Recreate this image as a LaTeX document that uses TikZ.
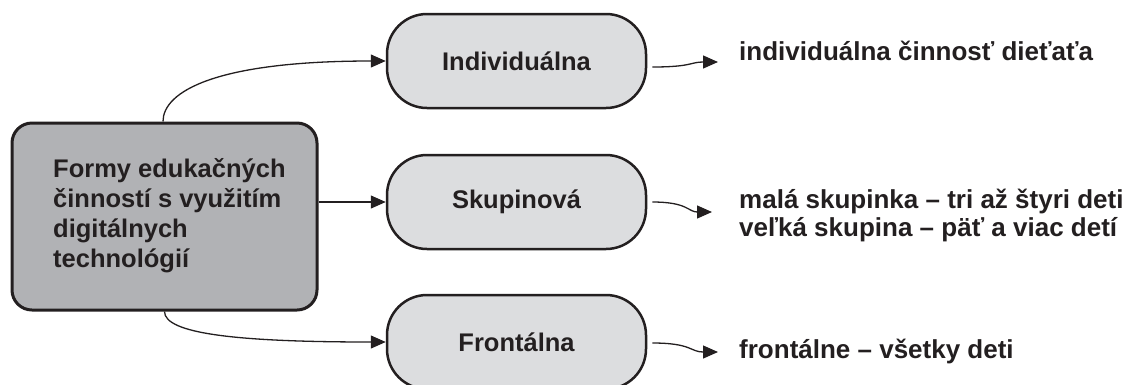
\documentclass[tikz,border=0pt]{standalone}
\usepackage{fontspec}
\setmainfont{Liberation Sans}
\usetikzlibrary{positioning,arrows.meta}

\definecolor{ink}{HTML}{231F20}
\definecolor{boxgray}{HTML}{B1B2B5}
\definecolor{pillgray}{HTML}{DCDDDF}

\newcommand\notefont{\fontsize{26}{28}\selectfont\bfseries\lineskiplimit=-20pt\relax}

\tikzset{
  bigtext/.style={font=\fontsize{25.5}{30}\selectfont\bfseries, text=ink},
  pill/.style={draw=ink, line width=2.5pt, fill=pillgray, rounded corners=40pt,
    minimum width=259pt, minimum height=94pt, bigtext},
  info/.style={bigtext, inner sep=0pt, align=left},
  note/.style={info, font=\notefont},
  link/.style={draw=ink, line width=1.3pt, -{Triangle[length=15pt,width=13pt]}}
}

\begin{document}
\begin{tikzpicture}[x=1pt,y=-1pt]
\useasboundingbox (0,0) rectangle (1126,384);

\node[draw=ink, line width=3pt, fill=boxgray, rounded corners=20pt,
  minimum width=305pt, minimum height=187pt] (forms) at (164.5,216.5) {};
\node[info, anchor=west] (formstext) at (53,216)
  {Formy edukačných\\činností s využitím\\digitálnych\\technológií};

\node[pill] (ind) at (516.5,61) {Individuálna};
\node[pill] (sk) at (516.5,202) {Skupinová};
\node[pill] (fr) at (516.5,342) {Frontálna};

\node[note, anchor=base west] (indtext) at (739,60) {individuálna činnosť dieťaťa};
\node[note, anchor=west] (sktext) at (739,215)
  {malá skupinka – tri až štyri deti\\veľká skupina – päť a viac detí};
\node[note, anchor=base west] (frtext) at (739,358) {frontálne – všetky deti};

\coordinate (indtip) at (718,62);
\coordinate (sktip) at (712,212);
\coordinate (frtip) at (718,352);

\draw[link] ([xshift=-1.5pt]forms.north) .. controls +(0,-30) and +(-170,0) .. (ind.west);
\draw[link] (forms.east |- sk.west) -- (sk.west);
\draw[link] (forms.south) .. controls +(0,22) and +(-150,0) .. (fr.west);

\draw[link] ([xshift=5pt,yshift=-6pt]ind.east) .. controls +(40,0) and +(-28,0) .. (indtip);
\draw[link] ([xshift=5pt]sk.east) .. controls +(36,0) and +(-24,0) .. (sktip);
\draw[link] ([xshift=5pt,yshift=-1pt]fr.east) .. controls +(40,0) and +(-28,0) .. (frtip);

\end{tikzpicture}
\end{document}
